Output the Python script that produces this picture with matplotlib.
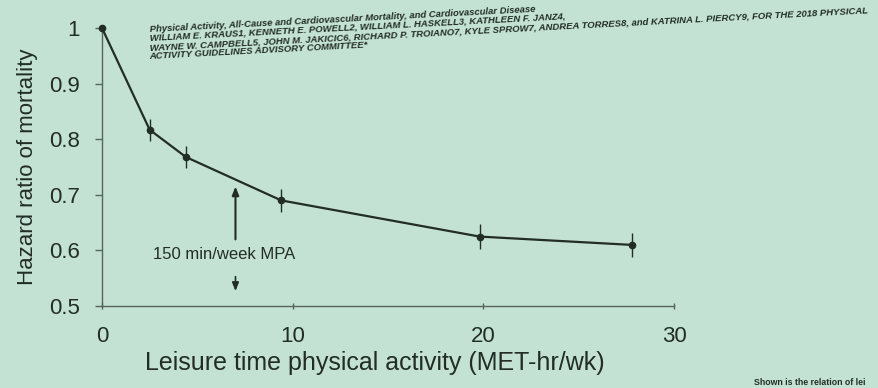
import matplotlib
matplotlib.use("Agg")
import matplotlib.pyplot as plt

# Данные
met_hr_wk = [0, 2.5, 4.4, 9.4, 19.8, 27.8]
hazard_ratio = [1.0, 0.817, 0.768, 0.69, 0.625, 0.61]
hr_err = [0, 0.02, 0.02, 0.02, 0.022, 0.022]
x_ticks = [0, 10, 20, 30]
y_ticks = [0.5, 0.6, 0.7, 0.8, 0.9, 1.0]
y_tick_labels = ["0.5", "0.6", "0.7", "0.8", "0.9", "1"]
mpa_label = "150 min/week MPA"
mpa_x = 7.0

citation_lines = [
    "Physical Activity, All-Cause and Cardiovascular Mortality, and Cardiovascular Disease",
    "WILLIAM E. KRAUS1, KENNETH E. POWELL2, WILLIAM L. HASKELL3, KATHLEEN F. JANZ4,",
    "WAYNE W. CAMPBELL5, JOHN M. JAKICIC6, RICHARD P. TROIANO7, KYLE SPROW7, "
    "ANDREA TORRES8, and KATRINA L. PIERCY9, FOR THE 2018 PHYSICAL",
    "ACTIVITY GUIDELINES ADVISORY COMMITTEE*",
]
footer = "Shown is the relation of lei"

bg = "#c4e2d3"
ink = "#222d28"
axis_col = "#55645c"

plt.rcParams["font.family"] = ["Liberation Sans", "DejaVu Sans"]

fig = plt.figure(figsize=(8.79, 3.88), dpi=100, facecolor=bg)
ax = fig.add_axes([0.116, 0.211, 0.651, 0.717], facecolor=bg)

# Кривая с погрешностями
ax.errorbar(met_hr_wk, hazard_ratio, yerr=hr_err, fmt="o-", color=ink,
            ms=4.5, lw=1.6, elinewidth=1.0, capsize=0, clip_on=False, zorder=3)

ax.set_xlim(0, 30)
ax.set_ylim(0.5, 1.0)
ax.set_xticks(x_ticks)
ax.set_yticks(y_ticks)
ax.set_yticklabels(y_tick_labels)

for s in ["top", "right"]:
    ax.spines[s].set_visible(False)
for s in ["left", "bottom"]:
    ax.spines[s].set_color(axis_col)
    ax.spines[s].set_linewidth(1.0)

ax.tick_params(axis="y", direction="out", length=5, width=1, color=axis_col,
               labelsize=16, labelcolor=ink, pad=11)
ax.tick_params(axis="x", direction="inout", length=5, width=1, color=axis_col,
               labelsize=16, labelcolor=ink, pad=12)

ax.set_ylabel("Hazard ratio of mortality", fontsize=16, color=ink, labelpad=8)
ax.set_xlabel("Leisure time physical activity (MET-hr/wk)", fontsize=18,
              color=ink, labelpad=3)
ax.xaxis.label.set_x(0.476)

# Стрелки 150 min/week
ax.annotate("", xy=(mpa_x, 0.72), xytext=(mpa_x, 0.615),
            arrowprops=dict(arrowstyle="-|>,head_width=0.2,head_length=0.5",
                            color=ink, lw=1.5))
ax.annotate("", xy=(mpa_x, 0.522), xytext=(mpa_x, 0.558),
            arrowprops=dict(arrowstyle="-|>,head_width=0.2,head_length=0.5",
                            color=ink, lw=1.2))
ax.text(6.4, 0.593, mpa_label, fontsize=12, color=ink, ha="center", va="center")

# Ссылка на статью (строки по отдельности, с наклоном как на фото)
for i, line in enumerate(citation_lines):
    fig.text(0.170, 0.918 - i * 0.0235, line, fontsize=6.8, fontweight="bold",
             fontstyle="italic", color=ink, ha="left", va="baseline",
             rotation=3, rotation_mode="anchor")

# Обрезанная подпись снизу
fig.text(0.858, 0.003, footer, fontsize=6.3, fontweight="bold", color=ink,
         ha="left", va="bottom")

fig.savefig("out.png", dpi=100, facecolor=bg)
